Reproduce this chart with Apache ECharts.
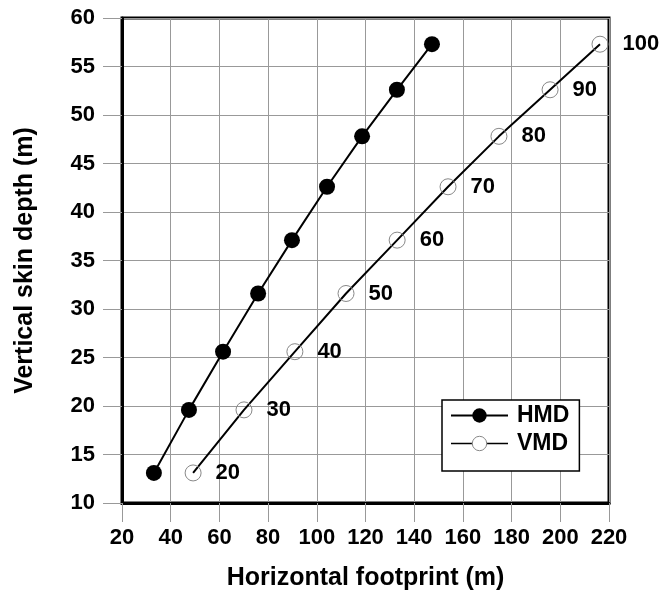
<!DOCTYPE html>
<html><head><meta charset="utf-8">
<script src="https://cdn.jsdelivr.net/npm/echarts@6/dist/echarts.min.js"></script>
<style>html,body{margin:0;padding:0;background:#fff}#c{width:665px;height:605px}</style>
</head><body><div id="c"></div>
<script>
var hmdX = [33.1, 47.5, 61.5, 75.9, 89.8, 104.2, 118.6, 132.9, 147.3];
var hmdY = [13.1, 19.6, 25.6, 31.6, 37.1, 42.6, 47.8, 52.6, 57.3];
var vmdX = [49.2, 70.1, 91.0, 112.0, 133.0, 153.9, 174.8, 195.8, 216.3];
var vmdY = [13.1, 19.6, 25.6, 31.6, 37.1, 42.6, 47.8, 52.6, 57.3];
var vmdLabels = ['20', '30', '40', '50', '60', '70', '80', '90', '100'];
var xTicks = {min: 20, max: 220, interval: 20};
var yTicks = {min: 10, max: 60, interval: 5};

var FONT = '"Liberation Sans", Arial, sans-serif';
function pairs(xs, ys) { return xs.map(function (x, i) { return [x, ys[i]]; }); }

var chart = echarts.init(document.getElementById('c'), null, {renderer: 'canvas'});
chart.setOption({
  animation: false,
  backgroundColor: '#fff',
  grid: {left: 122, top: 18, right: 56, bottom: 102, show: true, borderColor: '#000', borderWidth: 3, backgroundColor: 'transparent'},
  xAxis: {
    type: 'value', min: xTicks.min, max: xTicks.max, interval: xTicks.interval,
    name: 'Horizontal footprint (m)', nameLocation: 'middle', nameGap: 63,
    nameTextStyle: {fontFamily: FONT, fontWeight: 'bold', fontSize: 25, color: '#000'},
    axisLine: {show: true, lineStyle: {color: '#000', width: 3}},
    axisTick: {show: true, length: 19, lineStyle: {color: '#999', width: 1}},
    axisLabel: {margin: 24, fontFamily: FONT, fontWeight: 'bold', fontSize: 22, color: '#000'},
    splitLine: {show: true, lineStyle: {color: '#999', width: 1}}
  },
  yAxis: {
    type: 'value', min: yTicks.min, max: yTicks.max, interval: yTicks.interval,
    name: 'Vertical skin depth (m)', nameLocation: 'middle', nameGap: 84,
    nameTextStyle: {fontFamily: FONT, fontWeight: 'bold', fontSize: 25, color: '#000'},
    axisLine: {show: true, lineStyle: {color: '#000', width: 3}},
    axisTick: {show: true, length: 19, lineStyle: {color: '#999', width: 1}},
    axisLabel: {margin: 27, fontFamily: FONT, fontWeight: 'bold', fontSize: 22, color: '#000'},
    splitLine: {show: true, lineStyle: {color: '#999', width: 1}}
  },
  legend: {
    left: 442, top: 400, orient: 'vertical',
    backgroundColor: '#fff', borderColor: '#000', borderWidth: 1.5,
    padding: [4, 10, 16, 8], itemGap: 5, itemWidth: 57, itemHeight: 18,
    textStyle: {fontFamily: FONT, fontWeight: 'bold', fontSize: 23, color: '#000', padding: [0, 0, 0, 4]},
    data: [
      {name: 'HMD'},
      {name: 'VMD', itemStyle: {color: '#fff', borderColor: '#888', borderWidth: 1}, lineStyle: {width: 1.3, color: '#000'}}
    ]
  },
  series: [
    {
      name: 'HMD', type: 'line', data: pairs(hmdX, hmdY),
      symbol: 'circle', symbolSize: 16,
      lineStyle: {color: '#000', width: 2},
      itemStyle: {color: '#000'}
    },
    {
      name: 'VMD', type: 'line', data: pairs(vmdX, vmdY),
      symbol: 'circle', symbolSize: 16,
      lineStyle: {color: '#000', width: 2},
      itemStyle: {color: 'rgba(255,255,255,0)', borderColor: '#888', borderWidth: 1},
      label: {
        show: true, position: 'right', distance: 14,
        formatter: function (p) { return vmdLabels[p.dataIndex]; },
        fontFamily: FONT, fontWeight: 'bold', fontSize: 22, color: '#000'
      }
    }
  ]
});
</script>
</body></html>
